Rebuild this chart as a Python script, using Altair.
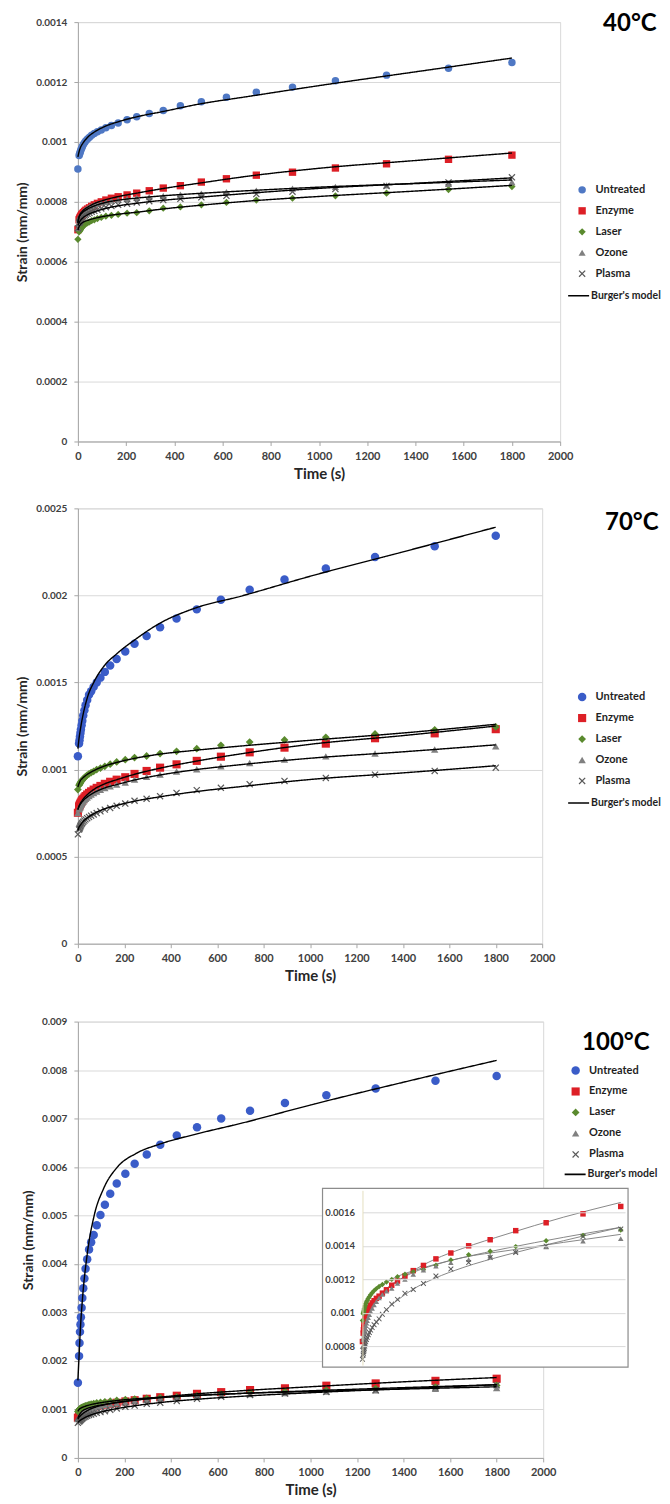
import altair as alt
import pandas as pd

# ---------------- data ----------------
T = [0, 5, 7, 9, 11, 13, 16, 19, 23, 28, 33, 40, 48, 57, 68, 81, 97, 116, 139, 167,
     204, 244, 296, 354, 425, 512, 616, 740, 890, 1068, 1280, 1537, 1800]
MT = [0, 5, 10, 20, 40, 70, 110, 170, 250, 350, 500, 700, 1000, 1400, 1800]
SERIES = ["Untreated", "Enzyme", "Laser", "Ozone", "Plasma"]
MODEL = "Burger's model"

# strain values, in units of 1e-6 mm/mm
U40 = [910, 955, 960, 965, 970, 975, 980, 986, 992, 998, 1004, 1010, 1016, 1022, 1028, 1034, 1040, 1047, 1055, 1063,
       1074, 1084, 1095, 1105, 1121, 1134, 1149, 1166, 1183, 1204, 1223, 1246, 1265]
E40 = [707, 740, 743, 747, 750, 753, 757, 760, 764, 768, 772, 776, 780, 785, 790, 795, 800, 806, 812, 817,
       823, 829, 837, 846, 854, 866, 877, 889, 899, 913, 927, 942, 956]
L40 = [675, 700, 703, 705, 708, 711, 714, 717, 720, 724, 727, 730, 733, 737, 740, 744, 748, 752, 755, 758,
       762, 764, 770, 779, 783, 790, 798, 806, 812, 820, 829, 841, 851]
O40 = [712, 740, 745, 749, 753, 757, 760, 764, 768, 772, 775, 779, 783, 786, 790, 793, 797, 800, 804, 807,
       810, 813, 816, 820, 824, 828, 833, 838, 844, 850, 855, 860, 866]
P40 = [712, 730, 733, 736, 739, 742, 745, 748, 751, 754, 757, 760, 763, 767, 770, 774, 778, 782, 786, 790,
       794, 798, 802, 806, 810, 815, 820, 826, 834, 843, 853, 865, 882]
MU40 = [950, 968, 980, 995, 1015, 1034, 1051, 1068, 1085, 1101, 1126, 1151, 1188, 1234, 1280]
ME40 = [730, 750, 760, 770, 782, 795, 806, 818, 830, 844, 862, 885, 912, 938, 963]
ML40 = [705, 718, 724, 731, 738, 745, 752, 759, 766, 776, 788, 802, 818, 836, 855]
MO40 = [730, 750, 756, 765, 776, 787, 797, 806, 813, 820, 828, 837, 849, 861, 873]
MP40 = [720, 730, 737, 746, 757, 767, 777, 787, 796, 805, 815, 828, 845, 862, 880]

U70 = [1076, 1150, 1168, 1190, 1210, 1230, 1255, 1280, 1310, 1340, 1370, 1400, 1430, 1450, 1475, 1500, 1528, 1561, 1598, 1635,
       1678, 1722, 1767, 1817, 1867, 1920, 1975, 2033, 2092, 2155, 2221, 2282, 2343]
E70 = [752, 788, 794, 800, 805, 811, 818, 825, 832, 840, 848, 857, 866, 875, 885, 895, 906, 918, 930, 942,
       956, 975, 992, 1011, 1030, 1050, 1074, 1099, 1126, 1149, 1180, 1208, 1232]
L70 = [885, 910, 915, 920, 925, 930, 935, 940, 946, 953, 960, 968, 975, 982, 990, 1000, 1008, 1019, 1031, 1044,
       1057, 1069, 1078, 1092, 1105, 1120, 1139, 1158, 1170, 1185, 1205, 1228, 1245]
O70 = [750, 772, 778, 784, 790, 797, 804, 810, 817, 825, 832, 840, 848, 856, 865, 874, 884, 894, 904, 914,
       926, 943, 958, 971, 989, 1002, 1019, 1038, 1057, 1076, 1092, 1115, 1134]
P70 = [628, 656, 662, 668, 674, 680, 687, 693, 700, 707, 714, 721, 728, 735, 742, 750, 760, 770, 780, 792,
       805, 821, 832, 847, 866, 882, 895, 916, 935, 952, 971, 992, 1011]
MU70 = [1120, 1180, 1225, 1300, 1410, 1505, 1590, 1668, 1750, 1838, 1925, 1995, 2110, 2250, 2392]
ME70 = [770, 790, 805, 826, 855, 887, 915, 943, 975, 1007, 1046, 1090, 1145, 1195, 1250]
ML70 = [900, 920, 935, 950, 972, 995, 1018, 1042, 1066, 1088, 1110, 1135, 1168, 1210, 1260]
MO70 = [770, 790, 800, 818, 842, 868, 892, 915, 942, 968, 998, 1028, 1065, 1102, 1142]
MP70 = [650, 670, 680, 698, 722, 748, 772, 795, 820, 843, 872, 902, 943, 981, 1022]

U100 = [1550, 2100, 2370, 2600, 2750, 2900, 3100, 3300, 3500, 3700, 3900, 4100, 4300, 4450, 4600, 4800, 5010, 5220, 5450, 5660,
        5860, 6070, 6260, 6460, 6650, 6820, 7000, 7160, 7320, 7480, 7620, 7780, 7880]
E100 = [830, 880, 900, 915, 930, 942, 955, 968, 980, 995, 1007, 1020, 1033, 1046, 1060, 1073, 1087, 1100, 1118, 1138,
        1165, 1190, 1220, 1252, 1283, 1322, 1357, 1400, 1436, 1490, 1537, 1590, 1634]
L100 = [955, 995, 1002, 1010, 1018, 1026, 1035, 1045, 1055, 1065, 1075, 1086, 1097, 1108, 1120, 1133, 1145, 1157, 1170, 1185,
        1200, 1215, 1230, 1246, 1258, 1284, 1316, 1346, 1368, 1395, 1430, 1462, 1494]
O100 = [800, 840, 850, 860, 872, 884, 897, 910, 925, 940, 955, 972, 990, 1008, 1028, 1048, 1068, 1090, 1110, 1130,
        1146, 1176, 1200, 1230, 1255, 1279, 1299, 1318, 1340, 1367, 1393, 1427, 1442]
P100 = [725, 750, 760, 770, 780, 790, 803, 815, 828, 842, 855, 870, 884, 898, 913, 930, 946, 965, 992, 1020,
        1053, 1081, 1117, 1140, 1176, 1220, 1262, 1300, 1330, 1360, 1398, 1455, 1500]
MU100 = [1600, 2100, 2600, 3300, 4200, 5000, 5550, 6000, 6280, 6470, 6670, 6900, 7280, 7750, 8200]
ME100 = [830, 880, 920, 970, 1020, 1063, 1100, 1142, 1192, 1250, 1318, 1385, 1468, 1570, 1658]
ML100 = [960, 1000, 1020, 1045, 1080, 1115, 1148, 1185, 1220, 1250, 1288, 1330, 1385, 1450, 1510]
MO100 = [800, 840, 865, 910, 975, 1040, 1092, 1148, 1195, 1240, 1285, 1330, 1370, 1420, 1468]
MP100 = [730, 755, 775, 805, 855, 910, 960, 1020, 1080, 1140, 1205, 1270, 1345, 1430, 1510]

X_TICKS = [0, 200, 400, 600, 800, 1000, 1200, 1400, 1600, 1800, 2000]
Y40_TICKS = [0, 0.0002, 0.0004, 0.0006, 0.0008, 0.001, 0.0012, 0.0014]
Y70_TICKS = [0, 0.0005, 0.001, 0.0015, 0.002, 0.0025]
Y100_TICKS = [0, 0.001, 0.002, 0.003, 0.004, 0.005, 0.006, 0.007, 0.008, 0.009]
INSET_TICKS = [0.0008, 0.001, 0.0012, 0.0014, 0.0016]

# ---------------- styling ----------------
FONT = "Lato"
RED = "#DD1F26"
GREEN = "#5A8A2E"
GREY = "#808080"
DGREY = "#5A5A5A"
X_PATH = "M-1,-0.75L-0.75,-1L0,-0.25L0.75,-1L1,-0.75L0.25,0L1,0.75L0.75,1L0,0.25L-0.75,1L-1,0.75L-0.25,0Z"
SHAPES = ["circle", "square", "diamond", "triangle-up", X_PATH]


def long_df(times, named):
    rows = []
    for name, vals in named:
        for t, v in zip(times, vals):
            rows.append({"t": t, "strain": v * 1e-6, "series": name, "model": MODEL})
    return pd.DataFrame(rows)


def one(name="k"):
    return pd.DataFrame({name: [0]})


def panel(pts, mdl, ymax, yticks, blue, w, h, label, tx, ty, lx, ly, llx, lly, usize,
          inset=None, top_extra=0):
    dp = long_df(T, pts)
    dm = long_df(MT, mdl)
    x = alt.X("t:Q", scale=alt.Scale(domain=[0, 2000], nice=False),
              axis=alt.Axis(values=X_TICKS, format="d", title="Time (s)", grid=False,
                            labelFlush=False,
                            domainColor="#A6A6A6", tickColor="#A6A6A6", tickSize=4,
                            labelFont=FONT, labelFontSize=11, labelFontWeight="bold",
                            labelColor="#404040", labelPadding=5, labelOverlap=False,
                            titleFont=FONT, titleFontSize=15, titleFontWeight="bold",
                            titleColor="#262626", titlePadding=5))
    y = alt.Y("strain:Q", scale=alt.Scale(domain=[0, ymax], nice=False),
              axis=alt.Axis(values=yticks, format="~g", title="Strain (mm/mm)", grid=True,
                            gridColor="#D9D9D9", labelFlush=False, labelOverlap=False,
                            domainColor="#A6A6A6", tickColor="#A6A6A6", tickSize=4,
                            labelFont=FONT, labelFontSize=10, labelFontWeight="bold",
                            labelColor="#404040", labelPadding=7,
                            titleFont=FONT, titleFontSize=14, titleFontWeight="bold",
                            titleColor="#262626", titlePadding=6))
    leg = alt.Legend(title=None, orient="none", legendX=lx, legendY=ly, padding=0,
                     rowPadding=9, labelOffset=8, symbolSize=49, symbolStrokeWidth=0,
                     labelFont=FONT, labelFontSize=11, labelFontWeight="bold",
                     labelColor="#1F1F1F")
    color = alt.Color("series:N", scale=alt.Scale(domain=SERIES,
                                                  range=[blue, RED, GREEN, GREY, DGREY]),
                      legend=leg)
    shape = alt.Shape("series:N", scale=alt.Scale(domain=SERIES, range=SHAPES), legend=leg)
    size = alt.Size("series:N", scale=alt.Scale(domain=SERIES, range=[usize, 49, 56, 56, 49]),
                    legend=None)
    points = alt.Chart(dp).mark_point(filled=True, opacity=1, strokeWidth=0).encode(
        x=x, y=y, color=color, shape=shape, size=size)
    lines = alt.Chart(dm).mark_line(color="black", strokeWidth=1.4, interpolate="monotone").encode(
        x=x, y=y, detail="series:N",
        strokeDash=alt.StrokeDash(
            "model:N", scale=alt.Scale(domain=[MODEL], range=[[1, 0]]),
            legend=alt.Legend(title=None, orient="none", legendX=llx, legendY=lly, padding=0,
                              symbolType="stroke", symbolSize=441, symbolStrokeWidth=1.6,
                              symbolStrokeColor="black", labelOffset=1,
                              labelFont=FONT, labelFontSize=10.5, labelFontWeight="bold",
                              labelColor="#1F1F1F")))
    title = alt.Chart(pd.DataFrame({"label": [label]})).mark_text(
        align="left", baseline="alphabetic", font=FONT, fontSize=24, fontWeight="bold",
        color="black").encode(text="label:N", x=alt.value(tx), y=alt.value(ty))
    layers = [points, lines, title]
    if top_extra:
        layers.append(alt.Chart(one()).mark_rule(opacity=0).encode(
            x=alt.value(0), y=alt.value(-top_extra), y2=alt.value(0)))
    main = alt.layer(*layers)
    if inset is None:
        return main.properties(width=w, height=h)

    ipts, imdl = inset
    dip = long_df(T, ipts)
    dim = long_df(MT, imdl)
    ix = alt.X("t:Q", scale=alt.Scale(domain=[0, 1830], range=[285, 548], nice=False), axis=None)
    iy = alt.Y("strain:Q", scale=alt.Scale(domain=[0.00069, 0.00173], range=[344, 169], nice=False),
               axis=alt.Axis(orient="left", offset=-285, values=INSET_TICKS, format="~g",
                             title=None, grid=True, gridColor="#D9D9D9",
                             domainColor="#E4E0C0", ticks=False, labelFlush=False,
                             labelOverlap=False, labelFont=FONT, labelFontSize=9.5,
                             labelFontWeight="bold", labelColor="#404040", labelPadding=8,
                             zindex=1))
    box = alt.Chart(one()).mark_rect(fill="white", stroke="#8C8C8C", strokeWidth=1.2).encode(
        x=alt.value(245), x2=alt.value(551), y=alt.value(167), y2=alt.value(346))
    inset_pts = alt.Chart(dip).mark_point(filled=True, opacity=1, strokeWidth=0).encode(
        x=ix, y=iy, color=color, shape=shape, size=alt.value(30))
    inset_lines = alt.Chart(dim).mark_line(color="#7A7A7A", strokeWidth=0.9,
                                           interpolate="monotone").encode(
        x=ix, y=iy, detail="series:N")
    inset_layer = alt.layer(inset_lines, inset_pts)
    return alt.layer(main, box, inset_layer).resolve_scale(
        x="independent", y="independent").properties(width=w, height=h)


p1 = panel([("Untreated", U40), ("Enzyme", E40), ("Laser", L40), ("Ozone", O40), ("Plasma", P40)],
           [("Untreated", MU40), ("Enzyme", ME40), ("Laser", ML40), ("Ozone", MO40), ("Plasma", MP40)],
           0.0014, Y40_TICKS, "#4F78C4", 483, 420, "40°C", 526, 9,
           499.5, 162.5, 490, 262.5, 56)
p2 = panel([("Untreated", U70), ("Enzyme", E70), ("Laser", L70), ("Ozone", O70), ("Plasma", P70)],
           [("Untreated", MU70), ("Enzyme", ME70), ("Laser", ML70), ("Ozone", MO70), ("Plasma", MP70)],
           0.0025, Y70_TICKS, "#3A5CC8", 465, 436, "70°C", 528, 22,
           499.5, 183.5, 490, 283.5, 72)
p3 = panel([("Untreated", U100), ("Enzyme", E100), ("Laser", L100), ("Ozone", O100), ("Plasma", P100)],
           [("Untreated", MU100), ("Enzyme", ME100), ("Laser", ML100), ("Ozone", MO100), ("Plasma", MP100)],
           0.009, Y100_TICKS, "#3A5CC8", 466, 437, "100°C", 505, 28,
           493, 43.5, 486.5, 141.5, 72,
           inset=([("Enzyme", E100), ("Laser", L100), ("Ozone", O100), ("Plasma", P100)],
                  [("Enzyme", ME100), ("Laser", ML100), ("Ozone", MO100), ("Plasma", MP100)]),
           top_extra=16)

chart = alt.vconcat(p1, p2, p3, spacing=20).resolve_scale(
    color="independent", shape="independent", size="independent", strokeDash="independent"
).resolve_legend(
    color="independent", shape="independent", size="independent", strokeDash="independent"
).properties(
    padding={"left": 7, "top": 2, "right": 0, "bottom": 0}
).configure(font=FONT).configure_view(stroke="#D9D9D9")

chart.save("out.html", embed_options={"renderer": "svg", "actions": False})
